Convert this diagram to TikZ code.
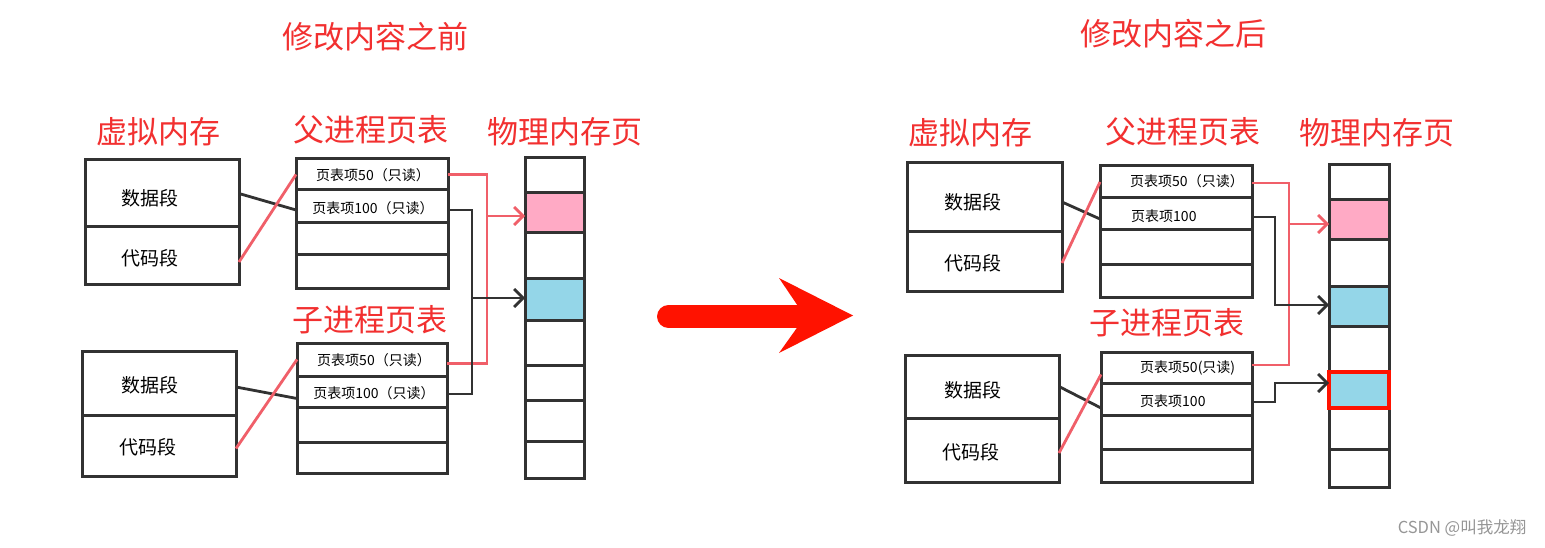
\documentclass[tikz,border=0pt]{standalone}
\usepackage{fontspec}
\setmainfont{Noto Sans CJK SC}
\usetikzlibrary{arrows.meta,calc}
\definecolor{ttl}{RGB}{242,48,48}
\definecolor{sk}{RGB}{50,50,50}
\definecolor{rline}{RGB}{240,95,105}
\definecolor{pinkc}{RGB}{255,170,197}
\definecolor{bluec}{RGB}{148,214,232}
\definecolor{bigred}{RGB}{255,18,0}
\definecolor{wm}{RGB}{150,150,150}
\tikzset{
  cell/.style n args={2}{draw=sk, line width=3pt, minimum width=#1pt, minimum height=#2pt, inner sep=0pt, outer sep=0pt},
  lbl/.style={font=\fontsize{31}{31}\selectfont, text=ttl, inner sep=0pt},
  seg/.style={font=\fontsize{19}{19}\selectfont, inner sep=0pt},
  pte/.style={font=\fontsize{14}{14}\selectfont, inner sep=0pt},
  bk/.style={draw=sk, line width=2.8pt},
  rl/.style={draw=rline, line width=2.8pt},
  tipb/.style={-{Straight Barb[length=9pt,width=18pt]}},
}
\begin{document}
\begin{tikzpicture}[x=1pt,y=-1pt]
\useasboundingbox[fill=white] (0,0) rectangle (1545,548);

% ---------- titles ----------
\node[lbl] (tbefore) at (375,37) {修改内容之前};
\node[lbl] (tafter) at (1173,34) {修改内容之后};

% ---------- LEFT ----------
\node[lbl] (lvt) at (158,132) {虚拟内存};
\node[lbl] (lpt) at (371,130) {父进程页表};
\node[lbl] (lmt) at (565,132) {物理内存页};
\node[lbl] (lqt) at (370,320) {子进程页表};

\node[cell={154}{67}] (lv1a) at (162,193.5) {};
\node[cell={154}{57}] (lv1b) at (162,255.5) {};
\node[seg] (lv1at) at (150,198) {数据段};
\node[seg] (lv1bt) at (150,258) {代码段};

\node[cell={152}{31}] (lp1) at (372,174.5) {};
\node[cell={152}{33}] (lp2) at (372,206.5) {};
\node[cell={152}{32}] (lp3) at (372,239) {};
\node[cell={152}{33}] (lp4) at (372,271.5) {};
\node[pte] (lp1t) at (373,175) {页表项50（只读）};
\node[pte] (lp2t) at (373,208) {页表项100（只读）};

\node[cell={59}{35}] (lm1) at (554.5,175.5) {};
\node[cell={59}{40},fill=pinkc] (lm2) at (554.5,213) {};
\node[cell={59}{45}] (lm3) at (554.5,255.5) {};
\node[cell={59}{42},fill=bluec] (lm4) at (554.5,299) {};
\node[cell={59}{45}] (lm5) at (554.5,342.5) {};
\node[cell={59}{35}] (lm6) at (554.5,382.5) {};
\node[cell={59}{41}] (lm7) at (554.5,420.5) {};
\node[cell={59}{37}] (lm8) at (554.5,459.5) {};

\node[cell={154}{64}] (lc1a) at (159,383) {};
\node[cell={154}{61}] (lc1b) at (159,445.5) {};
\node[seg] (lc1at) at (150,385) {数据段};
\node[seg] (lc1bt) at (148,447) {代码段};

\node[cell={150}{33}] (lq1) at (372,359.5) {};
\node[cell={150}{31}] (lq2) at (372,391.5) {};
\node[cell={150}{35}] (lq3) at (372,424.5) {};
\node[cell={150}{31}] (lq4) at (372,457.5) {};
\node[pte] (lq1t) at (374,360) {页表项50（只读）};
\node[pte] (lq2t) at (374,393) {页表项100（只读）};

% left connectors
\draw[bk] ([yshift=0pt]lv1a.east) -- ([yshift=-3.5pt]lp2.west);
\draw[rl] ([yshift=-6.5pt]lv1b.east) -- (lp1.west);
\draw[bk] ([yshift=-4pt]lc1a.east) -- ([yshift=-7pt]lq2.west);
\draw[rl] ([yshift=-3pt]lc1b.east) -- (lq1.west);

\coordinate (lbr) at (487,0);
\coordinate (lbb) at (472,0);
\coordinate (lp1e) at (lp1.east);
\coordinate (lq1e) at ([yshift=-4pt]lq1.east);
\coordinate (lm2w) at ([yshift=-3pt]lm2.west);
\coordinate (lp2e) at ([yshift=-3.5pt]lp2.east);
\coordinate (lq2e) at ([yshift=-2.5pt]lq2.east);
\coordinate (lm4w) at ([yshift=1pt]lm4.west);

\draw[rl] (lp1e) -- (lp1e -| lbr) -- (lq1e -| lbr) -- (lq1e);
\draw[rl,tipb] (lm2w -| lbr) -- (lm2w);
\draw[bk] (lp2e) -- (lp2e -| lbb) -- (lq2e -| lbb) -- (lq2e);
\draw[bk,tipb] (lm4w -| lbb) -- (lm4w);

% ---------- big arrow ----------
\draw[bigred, line width=23pt, line cap=round] (668.5,316.5) -- (800,316.5);
\fill[bigred] (779,278) -- (853,315.5) -- (779,353) -- (805,316.5) -- cycle;

% ---------- RIGHT ----------
\node[lbl] (rvt) at (970,133) {虚拟内存};
\node[lbl] (rpt) at (1183,132) {父进程页表};
\node[lbl] (rmt) at (1377,133) {物理内存页};
\node[lbl] (rqt) at (1167,323) {子进程页表};

\node[cell={155}{69}] (rv1a) at (984.5,197.5) {};
\node[cell={155}{59}] (rv1b) at (984.5,261.5) {};
\node[seg] (rv1at) at (973,202) {数据段};
\node[seg] (rv1bt) at (973,263) {代码段};

\node[cell={152}{32}] (rp1) at (1176,182) {};
\node[cell={152}{32}] (rp2) at (1176,214) {};
\node[cell={152}{34}] (rp3) at (1176,247) {};
\node[cell={152}{33}] (rp4) at (1176,280.5) {};
\node[pte,anchor=west] (rp1t) at (1130,181) {页表项50（只读）};
\node[pte,anchor=west] (rp2t) at (1131,216) {页表项100};

\node[cell={60}{35}] (rm1) at (1359,182.5) {};
\node[cell={60}{40},fill=pinkc] (rm2) at (1359,220) {};
\node[cell={60}{46}] (rm3) at (1359,263) {};
\node[cell={60}{40},fill=bluec] (rm4) at (1359,306) {};
\node[cell={60}{46}] (rm5) at (1359,349) {};
\node[cell={60}{41}] (rm7) at (1359,428.5) {};
\node[cell={60}{38}] (rm8) at (1359,468) {};
\node[cell={60}{36},fill=bluec,draw=bigred,line width=4.5pt] (rm6) at (1359,390) {};

\node[cell={154}{63}] (rc1a) at (982,386.5) {};
\node[cell={154}{64}] (rc1b) at (982,450) {};
\node[seg] (rc1at) at (973,390) {数据段};
\node[seg] (rc1bt) at (971,452) {代码段};

\node[cell={151}{31}] (rq1) at (1176.5,367.5) {};
\node[cell={151}{32}] (rq2) at (1176.5,399) {};
\node[cell={151}{34}] (rq3) at (1176.5,432) {};
\node[cell={151}{33}] (rq4) at (1176.5,465.5) {};
\node[pte,anchor=west] (rq1t) at (1140,368) {页表项50(只读)};
\node[pte,anchor=west] (rq2t) at (1140,401) {页表项100};

% right connectors
\draw[bk] ([yshift=-4.5pt]rv1a.east) -- ([yshift=-5pt]rp2.west);
\draw[rl] ([yshift=-1.5pt]rv1b.east) -- (rp1.west);
\draw[bk] ([yshift=0pt]rc1a.east) -- ([yshift=-9pt]rq2.west);
\draw[rl] ([yshift=-3pt]rc1b.east) -- ([yshift=-7pt]rq1.west);

\coordinate (rbr) at (1289,0);
\coordinate (rbb) at (1275,0);
\coordinate (rp1e) at ([yshift=-1pt]rp1.east);
\coordinate (rq1e) at ([yshift=2.5pt]rq1.east);
\coordinate (rm2w) at ([yshift=-4pt]rm2.west);
\coordinate (rp2e) at ([yshift=-3pt]rp2.east);
\coordinate (rm4w) at ([yshift=1pt]rm4.west);
\coordinate (rq2e) at ([yshift=-3pt]rq2.east);
\coordinate (rm6w) at ([yshift=7pt]rm6.west);

\draw[rl] (rp1e) -- (rp1e -| rbr) -- (rq1e -| rbr) -- (rq1e);
\draw[rl,tipb] (rm2w -| rbr) -- (rm2w);
\draw[bk,tipb] (rp2e) -- (rp2e -| rbb) -- (rm4w -| rbb) -- (rm4w);
\draw[bk,tipb] (rq2e) -- (rq2e -| rbb) -- (rm6w -| rbb) -- (rm6w);

% watermark
\node[font=\fontsize{16.5}{16.5}\selectfont, text=wm, inner sep=0pt] (wmk) at (1462,528) {CSDN @叫我龙翔};
\end{tikzpicture}
\end{document}
